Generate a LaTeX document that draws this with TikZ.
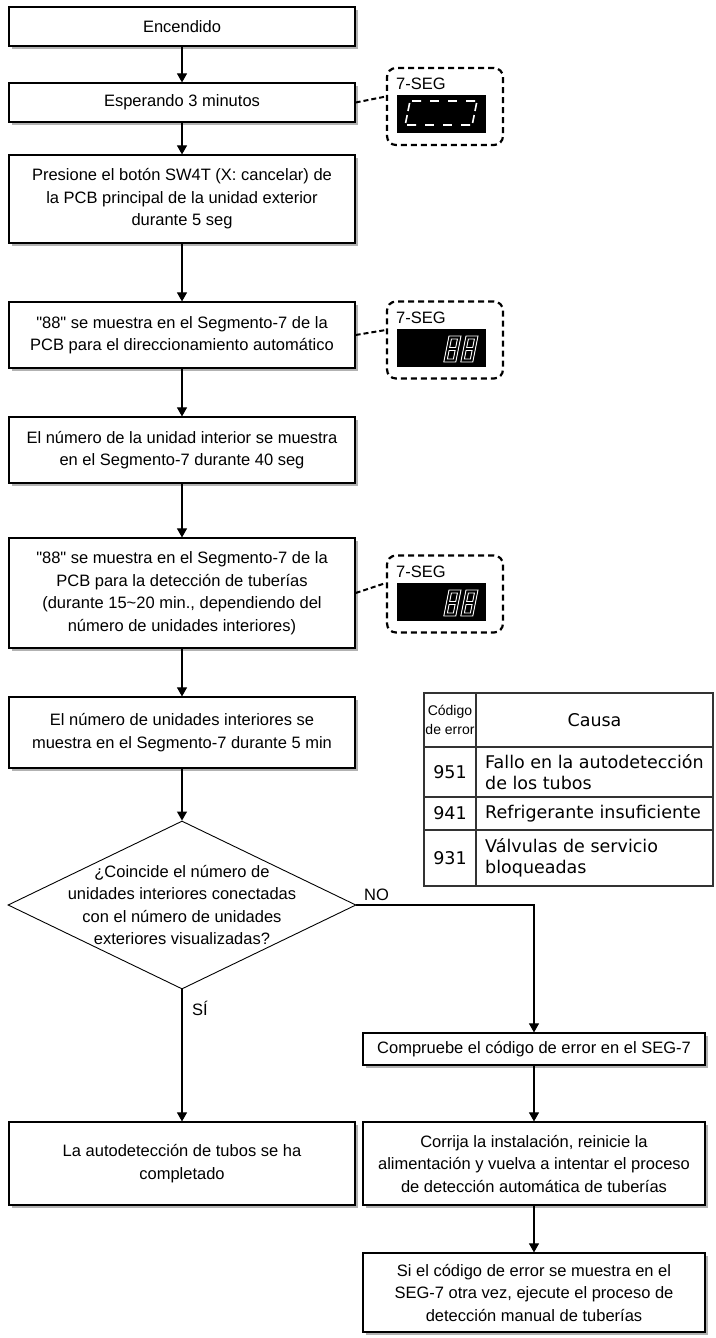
\documentclass[tikz,border=0pt]{standalone}
\usepackage{fontspec}
\setmainfont{Liberation Sans}
\newfontfamily\bxf{Liberation Sans}
\newfontfamily\tbf{DejaVu Sans}
\usetikzlibrary{arrows.meta,shapes.geometric,shadows,calc}
\begin{document}
\begin{tikzpicture}[x=1pt,y=-1pt,
  box/.style={draw=black, line width=1.2pt, fill=white, align=center,
    font=\bxf\fontsize{16.5}{22.5}\selectfont, inner sep=2pt,
    general shadow={fill=gray!60, shadow xshift=3pt, shadow yshift=-3pt}},
  lbox/.style={box, minimum width=346pt},
  rbox/.style={box, minimum width=342pt},
  arr/.style={-{Triangle[width=10pt,length=9pt]}, line width=1.1pt},
  segbox/.style={draw, line width=2.2pt, dash pattern=on 6pt off 4pt,
    rounded corners=9pt, minimum width=116pt, minimum height=77pt, inner sep=0pt},
  segconn/.style={line width=2pt, dash pattern=on 5pt off 3pt},
  display/.style={fill=black, minimum width=89pt, minimum height=38pt, inner sep=0pt},
  seglbl/.style={font=\bxf\fontsize{16.5}{18}\selectfont, anchor=west, inner sep=0pt},
  tbl/.style={line width=1.2pt, draw=black!80},
  tt/.style={font=\tbf\fontsize{17.5}{21.5}\selectfont, inner sep=0pt},
  txt/.style={font=\bxf\fontsize{16.5}{22.5}\selectfont, inner sep=0pt},
  outline8/.style={draw=white, line width=0.9pt, line join=miter},
  flatseg/.style={draw=white, line width=1.6pt},
  eight/.pic={
    \begin{scope}[xslant=0.2]
    \draw[outline8] (0,0) rectangle (12,26);
    \draw[outline8] (3,3) rectangle (9,11.5);
    \draw[outline8] (3,14.5) rectangle (9,23);
    \end{scope}}
]
\path[use as bounding box] (0,0) rectangle (715,1338);

% left column
\node[lbox, minimum height=39pt] (b1) at (182,26.5) {Encendido};
\node[lbox, minimum height=39pt] (b2) at (182,102.5) {Esperando 3 minutos};
\node[lbox, minimum height=88pt] (b3) at (182,199) {Presione el botón SW4T (X: cancelar) de\\la PCB principal de la unidad exterior\\durante 5 seg};
\node[lbox, minimum height=66pt] (b4) at (182,335) {"88" se muestra en el Segmento-7 de la\\PCB para el direccionamiento automático};
\node[lbox, minimum height=66pt] (b5) at (182,450) {El número de la unidad interior se muestra\\en el Segmento-7 durante 40 seg};
\node[lbox, minimum height=110pt] (b6) at (182,593) {"88" se muestra en el Segmento-7 de la\\PCB para la detección de tuberías\\(durante 15\textasciitilde 20 min., dependiendo del\\número de unidades interiores)};
\node[lbox, minimum height=71pt] (b7) at (182,732.5) {El número de unidades interiores se\\muestra en el Segmento-7 durante 5 min};
\node[diamond, draw, line width=0.9pt, minimum width=348pt, minimum height=168pt, inner sep=0pt] (d) at (182,905) {};
\node[txt, align=center] (dt) at (d.center) {¿Coincide el número de\\unidades interiores conectadas\\con el número de unidades\\exteriores visualizadas?};
\node[lbox, minimum height=83pt] (b8) at (182,1163.5) {La autodetección de tubos se ha\\completado};

% right column
\node[rbox, minimum height=32pt] (c1) at (534,1049) {Compruebe el código de error en el SEG-7};
\node[rbox, minimum height=83pt] (c2) at (534,1163.5) {Corrija la instalación, reinicie la\\alimentación y vuelva a intentar el proceso\\de detección automática de tuberías};
\node[rbox, minimum height=79pt] (c3) at (534,1292.5) {Si el código de error se muestra en el\\SEG-7 otra vez, ejecute el proceso de\\detección manual de tuberías};

% arrows
\draw[arr] (b1) -- (b2);
\draw[arr] (b2) -- (b3);
\draw[arr] (b3) -- (b4);
\draw[arr] (b4) -- (b5);
\draw[arr] (b5) -- (b6);
\draw[arr] (b6) -- (b7);
\draw[arr] (b7) -- (d.north);
\draw[arr] (d.south) -- (b8);
\draw[arr] (d.east) -| (c1.north);
\draw[arr] (c1) -- (c2);
\draw[arr] (c2) -- (c3);
\node[txt, anchor=south west] (no) at (364,901) {NO};
\node[txt, anchor=west] (si) at (192,1008) {SÍ};

% 7-SEG displays
\node[segbox] (s1) at (445,106.5) {};
\node[segbox] (s2) at (445,340) {};
\node[segbox] (s3) at (445,594) {};
\node[seglbl] (l1) at (396,84) {7-SEG};
\node[seglbl] (l2) at (396,318) {7-SEG};
\node[seglbl] (l3) at (396,572) {7-SEG};
\node[display] (r1) at (441.5,114) {};
\node[display] (r2) at (441.5,348) {};
\node[display] (r3) at (441.5,602) {};
\draw[segconn] (b2.east) -- ([yshift=10pt]s1.west);
\draw[segconn] (b4.east) -- ([yshift=10pt]s2.west);
\draw[segconn] (b6.east) -- ([yshift=11pt]s3.west);

\begin{scope}[shift={(410,101)}, xslant=0.2]
  \draw[flatseg] (2,0)--(11,0) (0,2)--(0,10) (0,14)--(0,22) (2,24)--(11,24);
  \draw[flatseg] (20,0)--(29,0) (20,24)--(29,24);
  \draw[flatseg] (38,0)--(47,0) (38,24)--(47,24);
  \draw[flatseg] (56,0)--(65,0) (67,2)--(67,10) (67,14)--(67,22) (56,24)--(65,24);
\end{scope}
\pic at (449,336) {eight};
\pic at (466,336) {eight};
\pic at (449,590) {eight};
\pic at (466,590) {eight};

% table
\draw[tbl] (424,693) rectangle (713,886);
\draw[tbl] (476,693) -- (476,886);
\draw[tbl] (424,747) -- (713,747) (424,797) -- (713,797) (424,830) -- (713,830);
\node[font=\bxf\fontsize{14}{19}\selectfont, align=center, inner sep=0pt] (th1) at (450,720) {Código\\de error};
\node[tt] (th2) at (594.5,720) {Causa};
\node[tt] (n951) at (450,772) {951};
\node[tt, anchor=west, align=left] (t951) at (485,772) {Fallo en la autodetección\\de los tubos};
\node[tt] (n941) at (450,813.5) {941};
\node[tt, anchor=west] (t941) at (485,813.5) {Refrigerante insuficiente};
\node[tt] (n931) at (450,858) {931};
\node[tt, anchor=west, align=left] (t931) at (485,858) {Válvulas de servicio\\bloqueadas};
\end{tikzpicture}
\end{document}
